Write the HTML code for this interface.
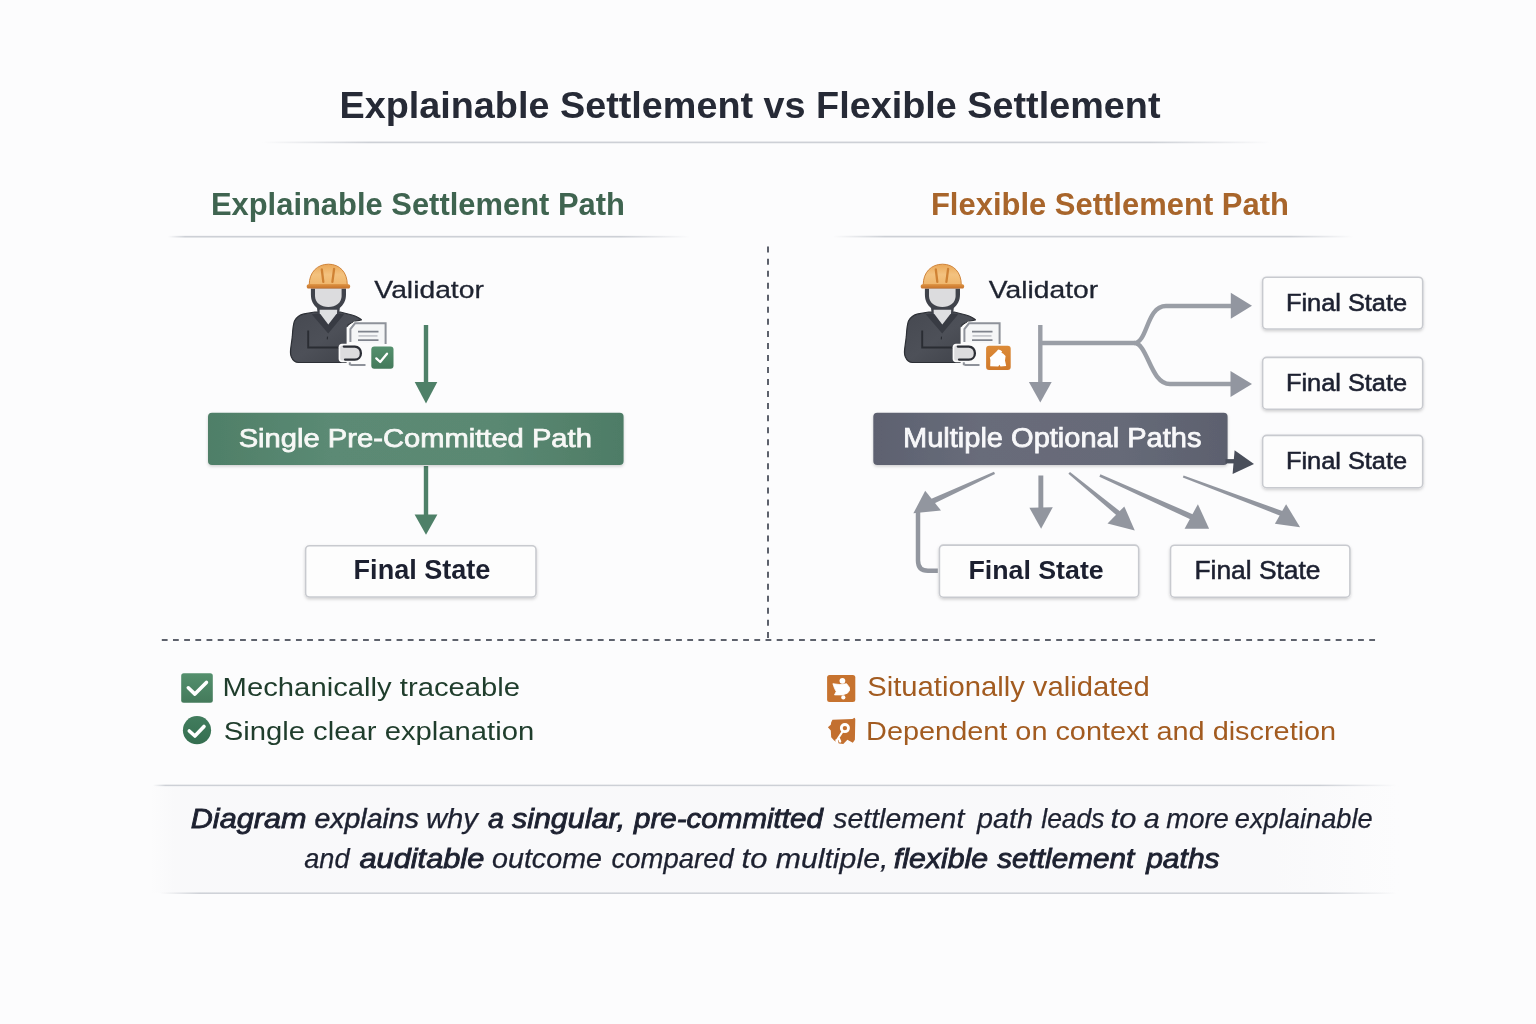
<!DOCTYPE html>
<html><head><meta charset="utf-8"><title>Explainable Settlement vs Flexible Settlement</title>
<style>
html,body{margin:0;padding:0;background:#fcfcfd;}
body{width:1536px;height:1024px;position:relative;overflow:hidden;font-family:"Liberation Sans",sans-serif;}
svg text{font-family:"Liberation Sans",sans-serif;}
svg{will-change:transform;}
</style></head>
<body>
<svg width="1536" height="1024" viewBox="0 0 1536 1024" style="position:absolute;left:0;top:0">
<defs>
  <linearGradient id="fadeL" x1="0" x2="1" y1="0" y2="0">
    <stop offset="0" stop-color="#c9ccd2" stop-opacity="0"/>
    <stop offset="0.12" stop-color="#c9ccd2" stop-opacity="1"/>
    <stop offset="0.88" stop-color="#c9ccd2" stop-opacity="1"/>
    <stop offset="1" stop-color="#c9ccd2" stop-opacity="0"/>
  </linearGradient>
  <linearGradient id="bodyg" x1="0" x2="1" y1="0" y2="1">
    <stop offset="0" stop-color="#464951"/>
    <stop offset="0.5" stop-color="#4d5058"/>
    <stop offset="1" stop-color="#3e4148"/>
  </linearGradient>
  <linearGradient id="helmg" x1="0" x2="0" y1="0" y2="1">
    <stop offset="0" stop-color="#eaa757"/>
    <stop offset="0.5" stop-color="#f3c27f"/>
    <stop offset="1" stop-color="#efb66c"/>
  </linearGradient>
  <linearGradient id="brimg" x1="0" x2="0" y1="0" y2="1">
    <stop offset="0" stop-color="#de9342"/>
    <stop offset="1" stop-color="#c4712b"/>
  </linearGradient>
  <linearGradient id="badgeg" x1="0" x2="0" y1="0" y2="1">
    <stop offset="0" stop-color="#54906d"/>
    <stop offset="1" stop-color="#447a5b"/>
  </linearGradient>
  <linearGradient id="obadgeg" x1="0" x2="0" y1="0" y2="1">
    <stop offset="0" stop-color="#dc8a37"/>
    <stop offset="1" stop-color="#d17a2b"/>
  </linearGradient>
  <linearGradient id="circg" x1="0" x2="0" y1="0" y2="1">
    <stop offset="0" stop-color="#427d5e"/>
    <stop offset="1" stop-color="#356e50"/>
  </linearGradient>
  <linearGradient id="greenbox" x1="0" x2="1" y1="0" y2="0">
    <stop offset="0" stop-color="#4f7f68"/>
    <stop offset="0.3" stop-color="#5b8a74"/>
    <stop offset="0.7" stop-color="#5a8872"/>
    <stop offset="1" stop-color="#4e7c66"/>
  </linearGradient>
  <linearGradient id="darkbox" x1="0" x2="1" y1="0" y2="0">
    <stop offset="0" stop-color="#5d6170"/>
    <stop offset="0.3" stop-color="#686c7a"/>
    <stop offset="0.7" stop-color="#666a78"/>
    <stop offset="1" stop-color="#5c606e"/>
  </linearGradient>
  <filter id="sh" x="-10%" y="-10%" width="120%" height="140%">
    <feDropShadow dx="0" dy="1.5" stdDeviation="1.5" flood-color="#000" flood-opacity="0.18"/>
  </filter>
</defs>
<rect width="1536" height="1024" fill="#fcfcfd"/>
<!-- separators -->
<linearGradient id="bandg" gradientUnits="userSpaceOnUse" x1="150" x2="1400" y1="0" y2="0"><stop offset="0" stop-color="#f6f6f8" stop-opacity="0"/><stop offset="0.02" stop-color="#f6f6f8" stop-opacity="1"/><stop offset="0.9" stop-color="#f6f6f8" stop-opacity="1"/><stop offset="1" stop-color="#f6f6f8" stop-opacity="0"/></linearGradient><rect x="150" y="786" width="1250" height="107" fill="url(#bandg)" opacity="0.5"/><linearGradient id="sg262_142" gradientUnits="userSpaceOnUse" x1="262" x2="1271" y1="0" y2="0"><stop offset="0" stop-color="#cdd0d6" stop-opacity="0"/><stop offset="0.107" stop-color="#cdd0d6" stop-opacity="1.0"/><stop offset="0.880" stop-color="#cdd0d6" stop-opacity="1.0"/><stop offset="1" stop-color="#cdd0d6" stop-opacity="0"/></linearGradient><rect x="262" y="141.55" width="1009" height="1.7" fill="url(#sg262_142)"/>
<linearGradient id="sg168_236" gradientUnits="userSpaceOnUse" x1="168" x2="690" y1="0" y2="0"><stop offset="0" stop-color="#cdd0d6" stop-opacity="0"/><stop offset="0.033" stop-color="#cdd0d6" stop-opacity="1.0"/><stop offset="0.866" stop-color="#cdd0d6" stop-opacity="1.0"/><stop offset="1" stop-color="#cdd0d6" stop-opacity="0"/></linearGradient><rect x="168" y="235.85" width="522" height="1.7" fill="url(#sg168_236)"/>
<linearGradient id="sg833_236" gradientUnits="userSpaceOnUse" x1="833" x2="1353" y1="0" y2="0"><stop offset="0" stop-color="#cdd0d6" stop-opacity="0"/><stop offset="0.100" stop-color="#cdd0d6" stop-opacity="1.0"/><stop offset="0.879" stop-color="#cdd0d6" stop-opacity="1.0"/><stop offset="1" stop-color="#cdd0d6" stop-opacity="0"/></linearGradient><rect x="833" y="235.75" width="520" height="1.7" fill="url(#sg833_236)"/>
<linearGradient id="sg153_785" gradientUnits="userSpaceOnUse" x1="153" x2="1397" y1="0" y2="0"><stop offset="0" stop-color="#cdd0d6" stop-opacity="0"/><stop offset="0.010" stop-color="#cdd0d6" stop-opacity="1.0"/><stop offset="0.938" stop-color="#cdd0d6" stop-opacity="1.0"/><stop offset="1" stop-color="#cdd0d6" stop-opacity="0"/></linearGradient><rect x="153" y="784.65" width="1244" height="1.5" fill="url(#sg153_785)"/>
<linearGradient id="sg160_893" gradientUnits="userSpaceOnUse" x1="160" x2="1397" y1="0" y2="0"><stop offset="0" stop-color="#cdd0d6" stop-opacity="0"/><stop offset="0.032" stop-color="#cdd0d6" stop-opacity="1.0"/><stop offset="0.938" stop-color="#cdd0d6" stop-opacity="1.0"/><stop offset="1" stop-color="#cdd0d6" stop-opacity="0"/></linearGradient><rect x="160" y="892.45" width="1237" height="1.5" fill="url(#sg160_893)"/>
<!-- dashed dividers -->
<line x1="768" y1="246.6" x2="768" y2="644" stroke="#5d616c" stroke-width="2" stroke-dasharray="6 6.04"/>
<line x1="161.8" y1="640" x2="1377" y2="640" stroke="#5d616c" stroke-width="2" stroke-dasharray="5.8 5.38"/>

<!-- LEFT -->
<g transform="translate(0,0)">
  <!-- body -->
  <path d="M314.8,312 L304,313.9 C299.5,315 296.5,317 294.5,321 C293,325 292.6,331 292.3,336.7 L290.6,349.4 C290.3,353 290.6,355.5 291.4,357 C292.8,360.3 295,362.3 298.5,362.5 L348,362.5 L348,325 C351,322.5 355,321 361.4,319.8 C359,317.6 356,316.3 352,315 L340.2,312 Z" fill="url(#bodyg)" stroke="#2c2f35" stroke-width="1.2" stroke-linejoin="round"/>
  <!-- collar band -->
  <path d="M311.7,314.2 L320.6,313.3 L328.2,324.7 L336.4,313.3 L344.2,314.2 L328.2,333.6 Z" fill="#383b43"/>
  <!-- hood / head outline -->
  <path d="M310.9,288.4 L310.9,294.5 C310.9,301 313.5,305 317,308 L317.6,313.3 L339.2,313.3 L339.8,308 C343.3,305 346,301 346,294.5 L346,288.4 Z" fill="#40434b"/>
  <path d="M315,288.4 L315,296 C315,302.6 321,307 328.4,307 C335.8,307 341.6,302.6 341.6,296 L341.6,288.4 Z" fill="#dcdcde"/>
  <!-- neck -->
  <path d="M319.6,309.8 L337.2,309.8 L337,313.3 L328.3,324.4 L319.8,313.3 Z" fill="#dedfe1"/>
  <path d="M327.5,336.6 L327.3,339.4" stroke="#2a2d33" stroke-width="1.1"/>
  <!-- arm line -->
  <path d="M308.2,330.4 L308.2,347.5 L340,347.5" fill="none" stroke="#2a2d33" stroke-width="1.9"/>
  <!-- helmet -->
  <path d="M309.2,285 C309.2,272 317.5,264.2 328.5,264.2 C339.5,264.2 347.3,272 347.3,285 Z" fill="url(#helmg)" stroke="#d0843a" stroke-width="1"/>
  <path d="M321.8,269.3 L323.3,281.8 M334.1,268.8 L332.4,281.8" stroke="#cf8234" stroke-width="2.3" stroke-linecap="round"/>
  <path d="M308.5,284.2 L348.5,284.2 C349.6,284.2 350.2,285.2 350.2,286.4 C350.2,287.6 349.4,288.6 348.3,288.6 L308.5,288.6 C307.4,288.6 306.7,287.6 306.7,286.4 C306.7,285.2 307.4,284.2 308.5,284.2 Z" fill="url(#brimg)"/>
  <!-- document -->
  <path d="M354.2,321.6 L386.4,321.6 L387.6,323 L387.6,347 L367.5,366.8 L348.4,366.8 L346.6,364.5 L346.6,327.6 Z" fill="#fbfbfb"/>
  <path d="M350.4,342 L350.4,329 L355,323.3 L385.6,323.3 L385.6,344" fill="#f5f6f7" stroke="#8e929a" stroke-width="2"/>
  <path d="M349.8,361.5 L349.8,364.3 L351.5,365 L365.5,365" fill="none" stroke="#8e929a" stroke-width="2"/>
  <path d="M358,331.7 L378.5,331.7 M358,340.2 L378.5,340.2" stroke="#80848d" stroke-width="1.8"/>
  <path d="M358.5,335.9 L377.5,335.9" stroke="#c3c6cb" stroke-width="1.7"/>
  <!-- hand -->
  <path d="M342,343.8 L355.5,343.8 C360.5,343.8 363.5,348.5 363.5,353 C363.5,357.5 360.5,362.2 355.5,362.2 L342,362.2 C340,362.2 338.6,360.8 338.6,358.8 L338.6,347.2 C338.6,345.2 340,343.8 342,343.8 Z" fill="#fbfbfb"/>
  <path d="M342.4,345.6 L354.8,345.6 C358.9,345.6 361.9,349 361.9,353.2 C361.9,357.4 358.9,360.6 354.8,360.6 L342.4,360.6 C341,360.6 340.2,359.6 340.2,358.4 L340.2,347.8 C340.2,346.6 341,345.6 342.4,345.6 Z" fill="#dcdcde"/>
  <path d="M343.8,346.6 L354.8,346.6 C358.4,346.6 360.9,349.6 360.9,353.2 C360.9,356.8 358.4,359.6 354.8,359.6 L345,359.6" fill="none" stroke="#2b2e35" stroke-width="2.3" stroke-linecap="round"/>
  <rect x="370.3" y="345.5" width="24.2" height="24.3" rx="4" fill="#fbfbfb"/>
  <rect x="371.3" y="346.5" width="22.2" height="22.3" rx="3" fill="url(#badgeg)"/>
  <path d="M376.3,358.4 L380.2,362 L387,353.7" fill="none" stroke="#fff" stroke-width="2.3" stroke-linecap="round" stroke-linejoin="round"/>
</g>
<g fill="#4e8068" stroke="none">
  <rect x="423.8" y="325" width="4.4" height="58"/>
  <path d="M414.7,382 L437.3,382 L426,403.4 Z"/>
  <rect x="423.8" y="466" width="4.4" height="49"/>
  <path d="M414.6,514.5 L437.4,514.5 L426,534.7 Z"/>
</g>
<rect x="208" y="412.7" width="415.6" height="52.2" rx="4" fill="url(#greenbox)" filter="url(#sh)"/>
<rect x="305.6" y="545.7" width="230.4" height="51.3" rx="4" fill="#fdfdfd" stroke="#c8cacf" stroke-width="1.6" filter="url(#sh)"/>

<!-- RIGHT -->
<g transform="translate(614,0)">
  <!-- body -->
  <path d="M314.8,312 L304,313.9 C299.5,315 296.5,317 294.5,321 C293,325 292.6,331 292.3,336.7 L290.6,349.4 C290.3,353 290.6,355.5 291.4,357 C292.8,360.3 295,362.3 298.5,362.5 L348,362.5 L348,325 C351,322.5 355,321 361.4,319.8 C359,317.6 356,316.3 352,315 L340.2,312 Z" fill="url(#bodyg)" stroke="#2c2f35" stroke-width="1.2" stroke-linejoin="round"/>
  <!-- collar band -->
  <path d="M311.7,314.2 L320.6,313.3 L328.2,324.7 L336.4,313.3 L344.2,314.2 L328.2,333.6 Z" fill="#383b43"/>
  <!-- hood / head outline -->
  <path d="M310.9,288.4 L310.9,294.5 C310.9,301 313.5,305 317,308 L317.6,313.3 L339.2,313.3 L339.8,308 C343.3,305 346,301 346,294.5 L346,288.4 Z" fill="#40434b"/>
  <path d="M315,288.4 L315,296 C315,302.6 321,307 328.4,307 C335.8,307 341.6,302.6 341.6,296 L341.6,288.4 Z" fill="#dcdcde"/>
  <!-- neck -->
  <path d="M319.6,309.8 L337.2,309.8 L337,313.3 L328.3,324.4 L319.8,313.3 Z" fill="#dedfe1"/>
  <path d="M327.5,336.6 L327.3,339.4" stroke="#2a2d33" stroke-width="1.1"/>
  <!-- arm line -->
  <path d="M308.2,330.4 L308.2,347.5 L340,347.5" fill="none" stroke="#2a2d33" stroke-width="1.9"/>
  <!-- helmet -->
  <path d="M309.2,285 C309.2,272 317.5,264.2 328.5,264.2 C339.5,264.2 347.3,272 347.3,285 Z" fill="url(#helmg)" stroke="#d0843a" stroke-width="1"/>
  <path d="M321.8,269.3 L323.3,281.8 M334.1,268.8 L332.4,281.8" stroke="#cf8234" stroke-width="2.3" stroke-linecap="round"/>
  <path d="M308.5,284.2 L348.5,284.2 C349.6,284.2 350.2,285.2 350.2,286.4 C350.2,287.6 349.4,288.6 348.3,288.6 L308.5,288.6 C307.4,288.6 306.7,287.6 306.7,286.4 C306.7,285.2 307.4,284.2 308.5,284.2 Z" fill="url(#brimg)"/>
  <!-- document -->
  <path d="M354.2,321.6 L386.4,321.6 L387.6,323 L387.6,347 L367.5,366.8 L348.4,366.8 L346.6,364.5 L346.6,327.6 Z" fill="#fbfbfb"/>
  <path d="M350.4,342 L350.4,329 L355,323.3 L385.6,323.3 L385.6,344" fill="#f5f6f7" stroke="#8e929a" stroke-width="2"/>
  <path d="M349.8,361.5 L349.8,364.3 L351.5,365 L365.5,365" fill="none" stroke="#8e929a" stroke-width="2"/>
  <path d="M358,331.7 L378.5,331.7 M358,340.2 L378.5,340.2" stroke="#80848d" stroke-width="1.8"/>
  <path d="M358.5,335.9 L377.5,335.9" stroke="#c3c6cb" stroke-width="1.7"/>
  <!-- hand -->
  <path d="M342,343.8 L355.5,343.8 C360.5,343.8 363.5,348.5 363.5,353 C363.5,357.5 360.5,362.2 355.5,362.2 L342,362.2 C340,362.2 338.6,360.8 338.6,358.8 L338.6,347.2 C338.6,345.2 340,343.8 342,343.8 Z" fill="#fbfbfb"/>
  <path d="M342.4,345.6 L354.8,345.6 C358.9,345.6 361.9,349 361.9,353.2 C361.9,357.4 358.9,360.6 354.8,360.6 L342.4,360.6 C341,360.6 340.2,359.6 340.2,358.4 L340.2,347.8 C340.2,346.6 341,345.6 342.4,345.6 Z" fill="#dcdcde"/>
  <path d="M343.8,346.6 L354.8,346.6 C358.4,346.6 360.9,349.6 360.9,353.2 C360.9,356.8 358.4,359.6 354.8,359.6 L345,359.6" fill="none" stroke="#2b2e35" stroke-width="2.3" stroke-linecap="round"/>
  <rect x="371.1" y="344.8" width="26.6" height="26.3" rx="4" fill="#fbfbfb"/>
  <rect x="372.1" y="345.8" width="24.6" height="24.3" rx="3" fill="url(#obadgeg)"/>
  <path d="M376.2,366.2 L376.4,360 L375.8,357.6 L377.5,356.2 L382.5,351.5 L384.2,349.6 L386.2,350 L388.2,351.6 L387.4,352.8 L389,353.6 L391.6,356 L391,360.5 L392.2,366 L386.5,366.6 L385.4,364.8 L384.3,366.6 Z" fill="#fff"/>
</g>
<g fill="none" stroke="#9a9ea6" stroke-width="4.4">
  <path d="M1040.3,325 L1040.3,383"/>
  <path d="M1040.3,343 L1134,343 C1148,343 1146,306 1166,306 L1232,306"/>
  <path d="M1134,343 C1148,343 1150,384 1170,384 L1232,384"/>
</g>
<g fill="#9296a0">
  <path d="M1028.9,382 L1051.7,382 L1040.3,402.6 Z"/>
  <path d="M1230.8,292.8 L1252,305.8 L1230.8,318.8 Z"/>
  <path d="M1230.5,371 L1252,384 L1230.5,397 Z"/>
</g>
<rect x="873.3" y="412.8" width="354.3" height="52.1" rx="4" fill="url(#darkbox)" filter="url(#sh)"/>
<g fill="#4a4f5b">
  <rect x="1225.5" y="459.1" width="10" height="4.3"/>
  <path d="M1234.6,450.3 L1254,463.9 L1232.6,474 Z"/>
</g>
<!-- bottom arrows -->
<path d="M994.0,471.7 L930.9,499.0 L933.1,504.0 L995.0,474.1 Z" fill="#92969f"/>
<path d="M925.2,490.8 L941.0,510.5 L913.4,513.3 Z" fill="#92969f"/>
<path d="M937.8,570.8 L928,570.8 Q918,570.8 918,560.5 L918,511" fill="none" stroke="#92969f" stroke-width="4.5"/>
<rect x="1038.4" y="475.5" width="4.9" height="33" fill="#92969f"/>
<path d="M1029.4,507.8 L1052.8,507.2 L1041.1,528.7 Z" fill="#92969f"/>
<path d="M1068.4,473.7 L1116.8,515.5 L1120.2,511.5 L1070.0,471.9 Z" fill="#92969f"/>
<path d="M1124.3,506.4 L1107.5,523.6 L1134.8,530.6 Z" fill="#92969f"/>
<path d="M1099.4,476.7 L1190.8,519.6 L1193.2,514.4 L1100.4,474.3 Z" fill="#92969f"/>
<path d="M1197.9,504.2 L1184.6,528.7 L1209.1,528.7 Z" fill="#92969f"/>
<path d="M1182.8,477.6 L1282.1,516.4 L1283.9,511.6 L1183.6,475.4 Z" fill="#92969f"/>
<path d="M1286.1,504.2 L1274.9,523.8 L1300.1,527.3 Z" fill="#92969f"/>
<g fill="#fdfdfd" stroke="#c8cacf" stroke-width="1.6" filter="url(#sh)">
  <rect x="939.4" y="545.1" width="199.3" height="52.1" rx="4"/>
  <rect x="1170.5" y="545.2" width="179.4" height="52" rx="4"/>
  <rect x="1262.6" y="277.2" width="160.1" height="51.8" rx="4"/>
  <rect x="1262.6" y="357.4" width="160.1" height="51.8" rx="4"/>
  <rect x="1262.6" y="435.4" width="160.1" height="52.3" rx="4"/>
</g>

<!-- legend icons -->
<rect x="181.2" y="673.3" width="31.6" height="29.5" rx="2.5" fill="url(#badgeg)"/>
<path d="M188.3,687.8 L194.9,694.1 L206.4,682.4" fill="none" stroke="#fff" stroke-width="3.6" stroke-linecap="round" stroke-linejoin="round"/>
<circle cx="197" cy="730.2" r="14.1" fill="url(#circg)"/>
<path d="M189.3,731 L194.9,736 L204,726.5" fill="none" stroke="#fff" stroke-width="3.6" stroke-linecap="round" stroke-linejoin="round"/>
<rect x="827.1" y="675" width="28.2" height="27" rx="2.5" fill="#c7732f"/>
<circle cx="842.4" cy="680.8" r="2.9" fill="#fff"/>
<circle cx="843.3" cy="697.4" r="2.1" fill="#fff"/>
<path d="M832.9,683.7 L839.9,684.6 L846.6,683.7 L849.5,687.5 L849.5,690.5 L847.4,693.2 L842.4,694.9 L834.5,694.9 L836.2,691.6 L834.5,688.3 Z" fill="#fff" stroke="#fff" stroke-width="0.8" stroke-linejoin="round"/>
<path d="M832.5,719.8 L852.4,719 L854.5,717.7 L855.3,719 L854.9,739.8 L852.8,742.7 L847.4,739.8 L843.3,743.9 L839.1,743.5 L834.1,740.6 L831.2,737.3 L830.8,730.6 L827.9,727.3 L830.8,724.8 L831.2,722.3 Z" fill="#c37030"/>
<circle cx="844.9" cy="728.1" r="3.6" fill="none" stroke="#fff" stroke-width="2.8"/>
<path d="M842.6,731.5 L837,740 M838.6,737.8 L840.2,741.5 M836.4,740.2 L837.4,742.2" stroke="#fff" stroke-width="2.2" stroke-linecap="round"/>

<text x="339.47" y="118.00" font-size="37.79" fill="#262a36" textLength="820.99" lengthAdjust="spacingAndGlyphs" ><tspan font-weight="bold" font-style="normal" >Explainable Settlement vs Flexible Settlement</tspan></text>
<text x="210.93" y="215.00" font-size="30.52" fill="#3f6450" textLength="413.98" lengthAdjust="spacingAndGlyphs" ><tspan font-weight="bold" font-style="normal" >Explainable Settlement Path</tspan></text>
<text x="930.93" y="215.00" font-size="30.52" fill="#a8652b" textLength="357.99" lengthAdjust="spacingAndGlyphs" ><tspan font-weight="bold" font-style="normal" >Flexible Settlement Path</tspan></text>
<text x="374.38" y="298.00" font-size="24.71" fill="#1e2330" textLength="109.48" lengthAdjust="spacingAndGlyphs" stroke="#1e2330" stroke-width="0.3"><tspan font-weight="normal" font-style="normal" >Validator</tspan></text>
<text x="988.78" y="298.00" font-size="24.71" fill="#1e2330" textLength="109.38" lengthAdjust="spacingAndGlyphs" stroke="#1e2330" stroke-width="0.3"><tspan font-weight="normal" font-style="normal" >Validator</tspan></text>
<text x="238.68" y="447.00" font-size="26.16" fill="#f7f8f6" textLength="353.22" lengthAdjust="spacingAndGlyphs" stroke="#f7f8f6" stroke-width="0.75"><tspan font-weight="normal" font-style="normal" >Single Pre-Committed Path</tspan></text>
<text x="903.02" y="446.70" font-size="27.18" fill="#f8f8fa" textLength="298.43" lengthAdjust="spacingAndGlyphs" stroke="#f8f8fa" stroke-width="0.75"><tspan font-weight="normal" font-style="normal" >Multiple Optional Paths</tspan></text>
<text x="353.59" y="579.20" font-size="27.18" fill="#1c2030" textLength="136.84" lengthAdjust="spacingAndGlyphs" ><tspan font-weight="bold" font-style="normal" >Final State</tspan></text>
<text x="968.41" y="579.00" font-size="25.87" fill="#1c2030" textLength="135.30" lengthAdjust="spacingAndGlyphs" ><tspan font-weight="bold" font-style="normal" >Final State</tspan></text>
<text x="1194.44" y="579.40" font-size="26.45" fill="#1c2030" textLength="126.03" lengthAdjust="spacingAndGlyphs" stroke="#1c2030" stroke-width="0.55"><tspan font-weight="normal" font-style="normal" >Final State</tspan></text>
<text x="1285.92" y="310.90" font-size="23.55" fill="#1c2030" textLength="121.21" lengthAdjust="spacingAndGlyphs" stroke="#1c2030" stroke-width="0.55"><tspan font-weight="normal" font-style="normal" >Final State</tspan></text>
<text x="1285.92" y="390.80" font-size="24.42" fill="#1c2030" textLength="121.21" lengthAdjust="spacingAndGlyphs" stroke="#1c2030" stroke-width="0.55"><tspan font-weight="normal" font-style="normal" >Final State</tspan></text>
<text x="1285.92" y="469.00" font-size="23.84" fill="#1c2030" textLength="121.21" lengthAdjust="spacingAndGlyphs" stroke="#1c2030" stroke-width="0.55"><tspan font-weight="normal" font-style="normal" >Final State</tspan></text>
<text x="222.60" y="695.90" font-size="25.15" fill="#1f3d2c" textLength="297.50" lengthAdjust="spacingAndGlyphs" ><tspan font-weight="normal" font-style="normal" >Mechanically traceable</tspan></text>
<text x="223.67" y="739.70" font-size="25.29" fill="#1f3d2c" textLength="310.63" lengthAdjust="spacingAndGlyphs" ><tspan font-weight="normal" font-style="normal" >Single clear explanation</tspan></text>
<text x="867.17" y="696.20" font-size="27.47" fill="#a25b20" textLength="282.71" lengthAdjust="spacingAndGlyphs" ><tspan font-weight="normal" font-style="normal" >Situationally validated</tspan></text>
<text x="866.13" y="740.00" font-size="26.02" fill="#a25b20" textLength="470.04" lengthAdjust="spacingAndGlyphs" ><tspan font-weight="normal" font-style="normal" >Dependent on context and discretion</tspan></text>
<text x="190.76" y="828.20" font-size="27.91" fill="#1d2130" textLength="115.66" lengthAdjust="spacingAndGlyphs" ><tspan font-weight="normal" font-style="italic" stroke="#1d2130" stroke-width="0.85">Diagram</tspan></text>
<text x="314.44" y="828.20" font-size="27.91" fill="#1d2130" textLength="104.44" lengthAdjust="spacingAndGlyphs" ><tspan font-weight="normal" font-style="italic" stroke="#1d2130" stroke-width="0.5">explains</tspan></text>
<text x="425.94" y="828.20" font-size="27.91" fill="#1d2130" textLength="52.09" lengthAdjust="spacingAndGlyphs" ><tspan font-weight="normal" font-style="italic" stroke="#1d2130" stroke-width="0.25">why</tspan></text>
<text x="487.96" y="828.20" font-size="27.91" fill="#1d2130" textLength="15.92" lengthAdjust="spacingAndGlyphs" ><tspan font-weight="normal" font-style="italic" stroke="#1d2130" stroke-width="0.85">a</tspan></text>
<text x="511.93" y="828.20" font-size="27.91" fill="#1d2130" textLength="113.36" lengthAdjust="spacingAndGlyphs" ><tspan font-weight="normal" font-style="italic" stroke="#1d2130" stroke-width="0.85">singular,</tspan></text>
<text x="633.94" y="828.20" font-size="27.91" fill="#1d2130" textLength="188.98" lengthAdjust="spacingAndGlyphs" ><tspan font-weight="normal" font-style="italic" stroke="#1d2130" stroke-width="0.85">pre-committed</tspan></text>
<text x="833.33" y="828.20" font-size="27.91" fill="#1d2130" textLength="130.98" lengthAdjust="spacingAndGlyphs" ><tspan font-weight="normal" font-style="italic" stroke="#1d2130" stroke-width="0.25">settlement</tspan></text>
<text x="977.02" y="828.20" font-size="27.91" fill="#1d2130" textLength="55.90" lengthAdjust="spacingAndGlyphs" ><tspan font-weight="normal" font-style="italic" stroke="#1d2130" stroke-width="0.25">path</tspan></text>
<text x="1041.27" y="828.20" font-size="27.91" fill="#1d2130" textLength="63.27" lengthAdjust="spacingAndGlyphs" ><tspan font-weight="normal" font-style="italic" stroke="#1d2130" stroke-width="0.25">leads</tspan></text>
<text x="1110.60" y="828.20" font-size="27.91" fill="#1d2130" textLength="25.79" lengthAdjust="spacingAndGlyphs" ><tspan font-weight="normal" font-style="italic" stroke="#1d2130" stroke-width="0.25">to</tspan></text>
<text x="1143.85" y="828.20" font-size="27.91" fill="#1d2130" textLength="16.03" lengthAdjust="spacingAndGlyphs" ><tspan font-weight="normal" font-style="italic" stroke="#1d2130" stroke-width="0.25">a</tspan></text>
<text x="1166.24" y="828.20" font-size="27.91" fill="#1d2130" textLength="62.68" lengthAdjust="spacingAndGlyphs" ><tspan font-weight="normal" font-style="italic" stroke="#1d2130" stroke-width="0.25">more</tspan></text>
<text x="1234.78" y="828.20" font-size="27.91" fill="#1d2130" textLength="137.93" lengthAdjust="spacingAndGlyphs" ><tspan font-weight="normal" font-style="italic" stroke="#1d2130" stroke-width="0.25">explainable</tspan></text>
<text x="304.19" y="867.90" font-size="27.91" fill="#1d2130" textLength="45.39" lengthAdjust="spacingAndGlyphs" ><tspan font-weight="normal" font-style="italic" stroke="#1d2130" stroke-width="0.25">and</tspan></text>
<text x="359.41" y="867.90" font-size="27.91" fill="#1d2130" textLength="124.93" lengthAdjust="spacingAndGlyphs" ><tspan font-weight="normal" font-style="italic" stroke="#1d2130" stroke-width="0.85">auditable</tspan></text>
<text x="491.96" y="867.90" font-size="27.91" fill="#1d2130" textLength="110.10" lengthAdjust="spacingAndGlyphs" ><tspan font-weight="normal" font-style="italic" stroke="#1d2130" stroke-width="0.25">outcome</tspan></text>
<text x="611.50" y="867.90" font-size="27.91" fill="#1d2130" textLength="122.27" lengthAdjust="spacingAndGlyphs" ><tspan font-weight="normal" font-style="italic" stroke="#1d2130" stroke-width="0.25">compared</tspan></text>
<text x="741.60" y="867.90" font-size="27.91" fill="#1d2130" textLength="25.79" lengthAdjust="spacingAndGlyphs" ><tspan font-weight="normal" font-style="italic" stroke="#1d2130" stroke-width="0.25">to</tspan></text>
<text x="775.70" y="867.90" font-size="27.91" fill="#1d2130" textLength="112.72" lengthAdjust="spacingAndGlyphs" ><tspan font-weight="normal" font-style="italic" stroke="#1d2130" stroke-width="0.25">multiple,</tspan></text>
<text x="893.78" y="867.90" font-size="27.91" fill="#1d2130" textLength="94.45" lengthAdjust="spacingAndGlyphs" ><tspan font-weight="normal" font-style="italic" stroke="#1d2130" stroke-width="0.85">flexible</tspan></text>
<text x="997.23" y="867.90" font-size="27.91" fill="#1d2130" textLength="136.94" lengthAdjust="spacingAndGlyphs" ><tspan font-weight="normal" font-style="italic" stroke="#1d2130" stroke-width="0.85">settlement</tspan></text>
<text x="1146.15" y="867.90" font-size="27.91" fill="#1d2130" textLength="73.47" lengthAdjust="spacingAndGlyphs" ><tspan font-weight="normal" font-style="italic" stroke="#1d2130" stroke-width="0.85">paths</tspan></text>
</svg>
</body></html>
